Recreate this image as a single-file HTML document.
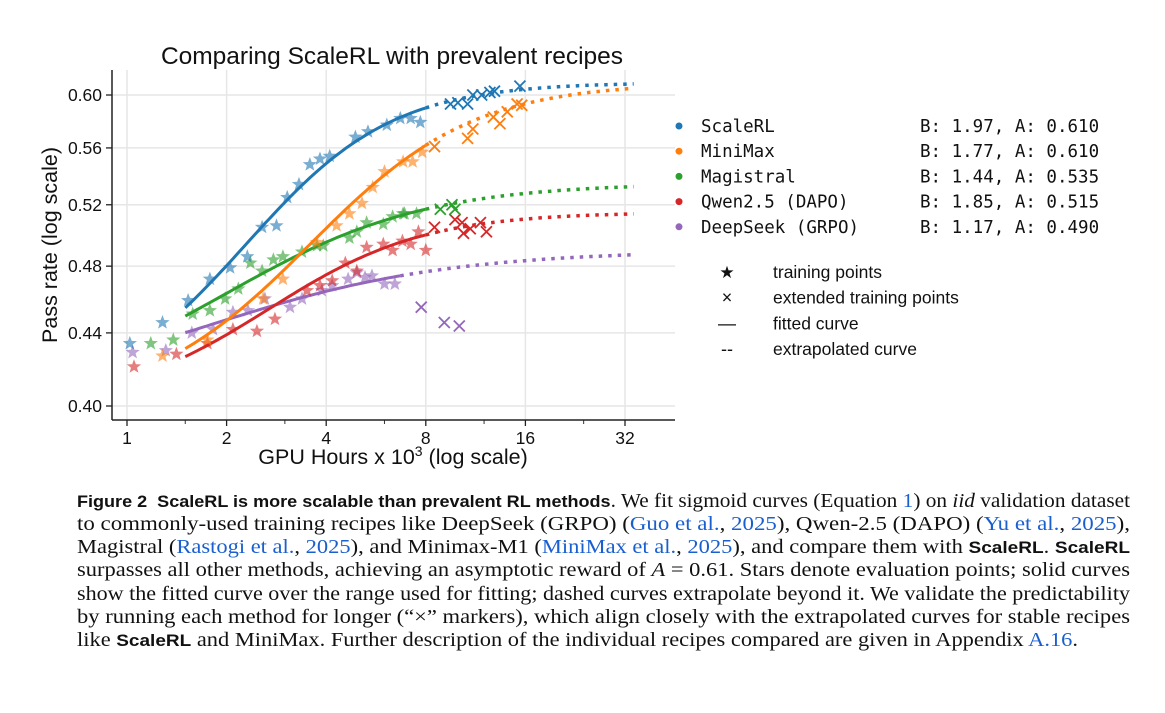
<!DOCTYPE html>
<html><head><meta charset="utf-8"><style>
body{margin:0;background:#fff;width:1165px;height:713px;overflow:hidden;position:relative;font-family:"Liberation Sans",sans-serif}
.cap{position:absolute;left:77px;white-space:nowrap;font-family:"Liberation Serif",serif;font-size:19.5px;color:#111;transform-origin:0 0}
.cap b.s{font-family:"Liberation Sans",sans-serif;font-size:16.5px}
.cap .l{color:#1a5fd0}
</style></head><body>
<svg id="chart" width="1165" height="480" style="position:absolute;left:0;top:0" font-family="Liberation Sans, sans-serif"></svg>
<div class="cap" data-w="1053" style="top:491px"><b class="s">Figure 2&nbsp; ScaleRL is more scalable than prevalent RL methods</b>. We fit sigmoid curves (Equation <span class="l">1</span>) on <i>iid</i> validation dataset</div>
<div class="cap" data-w="1053" style="top:514px">to commonly-used training recipes like DeepSeek (GRPO) (<span class="l">Guo et al.</span>, <span class="l">2025</span>), Qwen-2.5 (DAPO) (<span class="l">Yu et al.</span>, <span class="l">2025</span>),</div>
<div class="cap" data-w="1053" style="top:537px">Magistral (<span class="l">Rastogi et al.</span>, <span class="l">2025</span>), and Minimax-M1 (<span class="l">MiniMax et al.</span>, <span class="l">2025</span>), and compare them with <b class="s">ScaleRL</b>. <b class="s">ScaleRL</b></div>
<div class="cap" data-w="1053" style="top:560px">surpasses all other methods, achieving an asymptotic reward of <i>A</i> = 0.61. Stars denote evaluation points; solid curves</div>
<div class="cap" data-w="1053" style="top:584px">show the fitted curve over the range used for fitting; dashed curves extrapolate beyond it. We validate the predictability</div>
<div class="cap" data-w="1053" style="top:607px">by running each method for longer (“×” markers), which align closely with the extrapolated curves for stable recipes</div>
<div class="cap" data-w="1001" style="top:630px">like <b class="s">ScaleRL</b> and MiniMax. Further description of the individual recipes compared are given in Appendix <span class="l">A.16</span>.</div>
<script>
const seriesNames=["ScaleRL","MiniMax","Magistral","Qwen2.5 (DAPO)","DeepSeek (GRPO)"];
const colors=["#1f77b4","#ff7f0e","#2ca02c","#d62728","#9467bd"];
const paramB=[1.97,1.77,1.44,1.85,1.17];
const paramA=[0.610,0.610,0.535,0.515,0.490];
const paramCmid=[2.55,4.03,2.18,2.87,1.81];
const paramR0=[0.40,0.40,0.40,0.40,0.40];
const fitStart=[1.5,1.5,1.5,1.5,1.5];
const fitEnd=[8,8,8,8,6.7];
const extEnd=[34,34,34,34,34];
const xTicks=[1,2,4,8,16,32];
const yTicks=[0.40,0.44,0.48,0.52,0.56,0.60];
const starsX=[
[1.02,1.28,1.53,1.78,2.05,2.31,2.56,2.83,3.05,3.31,3.57,3.83,4.1,4.9,5.35,6.1,6.7,7.2,7.7],
[1.28,1.75,2.58,2.96,3.75,4.3,4.7,5.13,5.53,6.0,6.83,7.3,7.8],
[1.18,1.38,1.58,1.78,1.98,2.17,2.36,2.56,2.77,2.96,3.38,3.75,3.92,4.7,4.95,5.3,5.95,6.35,6.83,6.9,7.5],
[1.05,1.41,1.75,2.09,2.47,2.8,3.5,3.83,4.17,4.57,4.95,5.3,5.95,6.35,6.8,7.2,7.6,8.0],
[1.04,1.31,1.57,1.82,2.09,2.32,2.61,3.11,3.38,3.88,4.17,4.66,4.95,5.24,5.5,6.0,6.45]];
const starsY=[
[0.434,0.446,0.459,0.472,0.479,0.486,0.505,0.506,0.525,0.534,0.548,0.552,0.554,0.568,0.572,0.577,0.582,0.582,0.579],
[0.427,0.436,0.460,0.472,0.495,0.506,0.514,0.521,0.532,0.543,0.550,0.550,0.557],
[0.434,0.436,0.451,0.453,0.460,0.466,0.482,0.477,0.484,0.486,0.489,0.493,0.493,0.498,0.502,0.508,0.507,0.512,0.514,0.514,0.514],
[0.421,0.428,0.434,0.442,0.441,0.448,0.465,0.468,0.471,0.482,0.477,0.492,0.494,0.490,0.496,0.494,0.502,0.490],
[0.429,0.430,0.440,0.442,0.452,0.453,0.460,0.455,0.460,0.465,0.468,0.472,0.476,0.473,0.474,0.469,0.469]];
const extX=[
[9.5,10.0,10.7,11.1,11.8,12.5,12.9,15.4],
[8.5,10.7,11.1,12.8,13.4,14.1,15.1,15.6],
[8.85,9.6,9.8],
[8.5,9.8,10.3,10.4,10.9,11.7,12.2],
[7.75,9.1,10.1]];
const extY=[
[0.593,0.594,0.593,0.600,0.600,0.602,0.603,0.607],
[0.561,0.567,0.574,0.583,0.578,0.587,0.593,0.592],
[0.517,0.520,0.517],
[0.505,0.510,0.508,0.501,0.504,0.508,0.502],
[0.455,0.446,0.444]];

const NS="http://www.w3.org/2000/svg";
const svg=document.getElementById('chart');
const L=112,R=675,T=70,B=420;
function xs(c){return 127+99.6*Math.log2(c);}
function ys(v){return 406-767*Math.log(v/0.4);}
function mk(t,a,p){const e=document.createElementNS(NS,t);for(const k in a)e.setAttribute(k,a[k]);(p||svg).appendChild(e);return e;}
function fit(i,c){return paramR0[i]+(paramA[i]-paramR0[i])/(1+Math.pow(paramCmid[i]/c,paramB[i]));}
xTicks.forEach(t=>{const g=mk('line',{x1:xs(t),x2:xs(t),y1:T,y2:B,stroke:'#e6e6e6','stroke-width':1.5});

});
yTicks.forEach(t=>{const g=mk('line',{x1:L,x2:R,y1:ys(t),y2:ys(t),stroke:'#e6e6e6','stroke-width':1.5});

});
[1.5,3,6,12,24].forEach(t=>{mk('line',{x1:xs(t),x2:xs(t),y1:B,y2:B+4,stroke:'#333','stroke-width':1});});
const ax=mk('line',{x1:L,x2:R,y1:B,y2:B,stroke:'#222','stroke-width':1.5});


const ay=mk('line',{x1:L,x2:L,y1:T,y2:B,stroke:'#222','stroke-width':1.5});


xTicks.forEach(t=>{mk('line',{x1:xs(t),x2:xs(t),y1:B,y2:B+6,stroke:'#222','stroke-width':1.3});
const tx=mk('text',{x:xs(t),y:B+24,'text-anchor':'middle','font-size':17.5,fill:'#111'});tx.textContent=t;

});
yTicks.forEach(t=>{mk('line',{x1:L-6,x2:L,y1:ys(t),y2:ys(t),stroke:'#222','stroke-width':1.3});
const tx=mk('text',{x:L-10,y:ys(t)+6,'text-anchor':'end','font-size':17.5,fill:'#111'});tx.textContent=t.toFixed(2);

});
const title=mk('text',{x:392,y:64,'text-anchor':'middle','font-size':24.5,fill:'#111'});title.textContent='Comparing ScaleRL with prevalent recipes';


const xl=mk('text',{x:393,y:464,'text-anchor':'middle','font-size':21.5,fill:'#111'});
xl.innerHTML='GPU Hours x 10<tspan dy="-8" font-size="14">3</tspan><tspan dy="8"> (log scale)</tspan>';


const yl=mk('text',{x:0,y:0,'text-anchor':'middle','font-size':21.5,fill:'#111',transform:'translate(57,245) rotate(-90)'});yl.textContent='Pass rate (log scale)';


function star(cx,cy,r){let p=[];for(let k=0;k<10;k++){const rr=k%2?r*0.42:r;const a=-Math.PI/2+k*Math.PI/5;p.push((cx+rr*Math.cos(a)).toFixed(1)+','+(cy+rr*Math.sin(a)).toFixed(1));}return p.join(' ');}
for(let i=seriesNames.length-1;i>=0;i--){
 const g=mk('g',{});
 
 
 starsX[i].forEach((x,j)=>{const s=mk('polygon',{points:star(xs(x),ys(starsY[i][j]),7.5),fill:colors[i],opacity:0.6},g);
  
  });
 extX[i].forEach((x,j)=>{const cx=xs(x),cy=ys(extY[i][j]),d=5.5;
  const p=mk('path',{d:`M${cx-d},${cy-d}L${cx+d},${cy+d}M${cx-d},${cy+d}L${cx+d},${cy-d}`,stroke:colors[i],'stroke-width':1.8,fill:'none'},g);
  
  });
 let a=[],b=[];
 for(let k=0;k<=60;k++){const c=fitStart[i]*Math.pow(fitEnd[i]/fitStart[i],k/60);a.push(xs(c).toFixed(1)+','+ys(fit(i,c)).toFixed(1));}
 for(let k=0;k<=60;k++){const c=fitEnd[i]*Math.pow(extEnd[i]/fitEnd[i],k/60);b.push(xs(c).toFixed(1)+','+ys(fit(i,c)).toFixed(1));}
 const f=mk('polyline',{points:a.join(' '),fill:'none',stroke:colors[i],'stroke-width':3},g);
 
 
 const e=mk('polyline',{points:b.join(' '),fill:'none',stroke:colors[i],'stroke-width':3.5,'stroke-dasharray':'3.5 6'},g);
 
 
}
seriesNames.forEach((n,i)=>{const y=126+25.2*i;
 const g=mk('g',{});
 
 
 mk('circle',{cx:679,cy:y,r:3.5,fill:colors[i]},g);
 const t=mk('text',{x:701,y:y+6,'font-size':17.5,'font-family':'DejaVu Sans Mono, Liberation Mono, monospace',fill:'#111'},g);t.textContent=n;
 const t2=mk('text',{x:920,y:y+6,'font-size':17.5,'font-family':'DejaVu Sans Mono, Liberation Mono, monospace',fill:'#111'},g);
 t2.textContent='B: '+paramB[i].toFixed(2)+', A: '+paramA[i].toFixed(3);});
const mlab=['training points','extended training points','fitted curve','extrapolated curve'];
const msym=['★','×','—','--'];
mlab.forEach((l,i)=>{const y=272+25.7*i;
 const g=mk('g',{});
 
 
 const s=mk('text',{x:727,y:y+6,'text-anchor':'middle','font-size':i==0?17:18,fill:'#111'},g);s.textContent=msym[i];
 const t=mk('text',{x:773,y:y+6,'font-size':17.5,fill:'#111'},g);t.textContent=l;});
document.querySelectorAll('.cap').forEach(c=>{const w=c.getBoundingClientRect().width;const tw=+c.getAttribute('data-w');c.style.transform='scaleX('+(tw/w)+')';});
</script>
</body></html>
